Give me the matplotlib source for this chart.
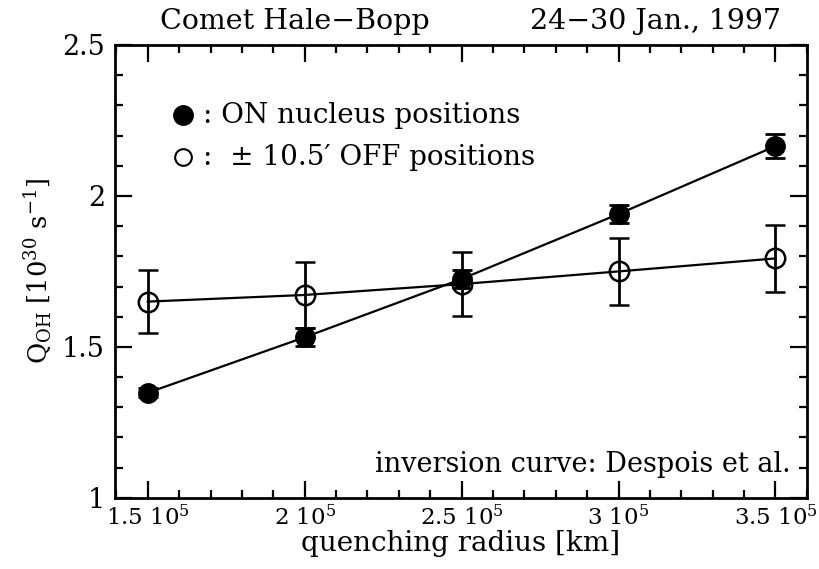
import numpy as np
import matplotlib
matplotlib.use("Agg")
import matplotlib.pyplot as plt
from matplotlib.ticker import MultipleLocator, FixedLocator

# quenching radius [km]
radius = [1.5e5, 2.0e5, 2.5e5, 3.0e5, 3.5e5]

# ON nucleus positions
q_on = [1.348, 1.532, 1.725, 1.940, 2.165]
err_on = [0.015, 0.030, 0.030, 0.030, 0.040]

# +/- 10.5' OFF positions
q_off = [1.650, 1.672, 1.708, 1.750, 1.793]
err_off = [0.105, 0.110, 0.105, 0.110, 0.110]

xtick_vals = [1.5e5, 2.0e5, 2.5e5, 3.0e5, 3.5e5]
xtick_labels = [r"1.5 $10^5$", r"2 $10^5$", r"2.5 $10^5$", r"3 $10^5$", r"3.5 $10^5$"]
ytick_vals = [1, 1.5, 2, 2.5]
ytick_labels = ["1", "1.5", "2", "2.5"]

plt.rcParams['font.family'] = ['DejaVu Serif']
plt.rcParams['mathtext.fontset'] = 'dejavuserif'
fs = 20

fig = plt.figure(figsize=(8.2, 5.69), dpi=100)
ax = fig.add_axes([0.140, 0.125, 0.844, 0.796])

# ON nucleus: filled circles
ax.errorbar(radius, q_on, yerr=err_on, fmt='-o', color='black', mfc='black',
            ms=14, lw=1.6, elinewidth=2, capsize=7, capthick=2)
# OFF: open circles
ax.errorbar(radius, q_off, yerr=err_off, fmt='-o', color='black', mfc='none',
            ms=14, mew=1.8, lw=1.6, elinewidth=2, capsize=7, capthick=2)

ax.set_xlim(1.395e5, 3.6e5)
ax.set_ylim(1.0, 2.5)

ax.xaxis.set_major_locator(FixedLocator(xtick_vals))
ax.set_xticklabels(xtick_labels)
ax.xaxis.set_minor_locator(MultipleLocator(1e4))
ax.yaxis.set_major_locator(FixedLocator(ytick_vals))
ax.set_yticklabels(ytick_labels)
ax.yaxis.set_minor_locator(MultipleLocator(0.1))

ax.tick_params(which='both', direction='in', top=True, right=True, width=1.6)
ax.tick_params(axis='x', pad=5, labelsize=16.5)
ax.tick_params(axis='y', pad=7, labelsize=19.5)
ax.tick_params(which='major', length=12)
ax.tick_params(which='minor', length=6)
for s in ax.spines.values():
    s.set_linewidth(2)

ax.set_xlabel("quenching radius [km]", fontsize=fs, labelpad=0)
ax.set_ylabel(r"$\mathrm{Q}_{\rm OH}$ [$10^{30}$ s$^{-1}$]", fontsize=18.5, labelpad=6)

fig.text(0.359, 0.963, "Comet Hale\u2212Bopp", fontsize=20.5, ha='center', va='center')
fig.text(0.800, 0.963, "24\u221230 Jan., 1997", fontsize=20.5, ha='center', va='center')

# legend drawn by hand
ax.plot([0.098], [0.845], 'o', color='black', ms=14, transform=ax.transAxes)
ax.plot([0.098], [0.752], 'o', color='black', mfc='none', mew=1.5, ms=12,
        transform=ax.transAxes)
ax.text(0.128, 0.845, ": ON nucleus positions", fontsize=fs, va='center',
        transform=ax.transAxes)
ax.text(0.128, 0.752, ":  \u00b1 10.5\u2032 OFF positions", fontsize=fs, va='center',
        transform=ax.transAxes)

ax.text(0.977, 0.073, "inversion curve: Despois et al.", fontsize=19.5,
        ha='right', va='center', transform=ax.transAxes)

fig.savefig("out.png", dpi=100)
